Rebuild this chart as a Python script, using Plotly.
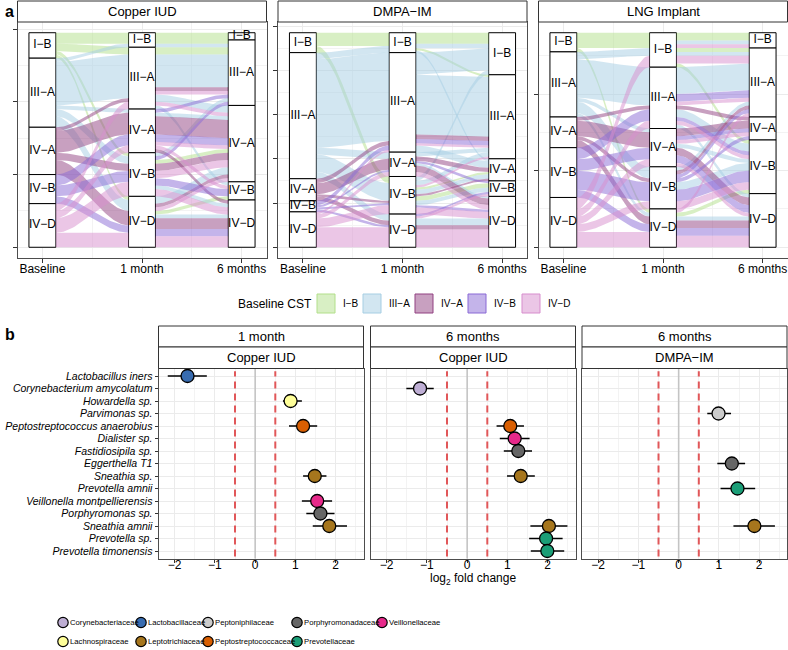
import numpy as np
import plotly.graph_objects as go

W, H = 788, 650
def fx(x): return x / W
def fy(y): return 1 - y / H

# ---------------- panel a data ----------------
CST = ["I-B", "III-A", "IV-A", "IV-B", "IV-D"]
CST_TEXT = ["I−B", "III−A", "IV−A", "IV−B", "IV−D"]
CST_RGB = [(178, 223, 138), (166, 206, 227), (145, 65, 129), (137, 105, 213), (215, 141, 205)]
VISITS = ["Baseline", "1 month", "6 months"]
METHODS = ["Copper IUD", "DMPA−IM", "LNG Implant"]

# (baseline CST, 1-month CST, 6-month CST, participants)
COPPER_IUD_PATHS = [
    ("I-B", "I-B", "I-B", 2), ("I-B", "I-B", "III-A", 1), ("I-B", "III-A", "III-A", 2),
    ("I-B", "IV-B", "IV-A", 1), ("I-B", "IV-D", "IV-B", 1),
    ("III-A", "I-B", "III-A", 1), ("III-A", "III-A", "III-A", 9), ("III-A", "III-A", "IV-A", 2),
    ("III-A", "IV-A", "IV-A", 1), ("III-A", "IV-B", "IV-D", 1), ("III-A", "IV-D", "IV-A", 2),
    ("III-A", "IV-B", "III-A", 1), ("III-A", "III-A", "IV-B", 1), ("III-A", "IV-D", "IV-D", 1),
    ("IV-A", "III-A", "III-A", 1), ("IV-A", "IV-A", "IV-A", 5), ("IV-A", "IV-A", "IV-D", 1),
    ("IV-A", "IV-D", "IV-D", 3), ("IV-A", "IV-D", "IV-A", 1), ("IV-A", "IV-B", "IV-A", 2),
    ("IV-B", "IV-A", "IV-A", 2), ("IV-B", "IV-B", "IV-B", 2), ("IV-B", "IV-B", "III-A", 1),
    ("IV-B", "IV-D", "IV-D", 2), ("IV-B", "IV-A", "III-A", 1),
    ("IV-D", "III-A", "III-A", 1), ("IV-D", "IV-A", "IV-A", 1), ("IV-D", "IV-B", "IV-A", 2),
    ("IV-D", "IV-B", "IV-D", 2), ("IV-D", "IV-D", "IV-D", 3), ("IV-D", "IV-D", "IV-A", 1),
    ("IV-D", "III-A", "IV-A", 1), ("IV-D", "IV-A", "IV-B", 1),
]
DMPA_IM_PATHS = [
    ("I-B", "I-B", "I-B", 5), ("I-B", "IV-B", "IV-B", 2), ("I-B", "IV-B", "IV-A", 1), ("I-B", "I-B", "III-A", 1),
    ("III-A", "I-B", "I-B", 2), ("III-A", "I-B", "IV-A", 1), ("III-A", "III-A", "I-B", 10),
    ("III-A", "III-A", "III-A", 27), ("III-A", "III-A", "IV-A", 3), ("III-A", "IV-A", "III-A", 2),
    ("III-A", "IV-A", "IV-D", 1), ("III-A", "IV-B", "I-B", 2), ("III-A", "IV-B", "IV-B", 2),
    ("III-A", "IV-B", "III-A", 2), ("III-A", "IV-D", "IV-D", 3), ("III-A", "IV-B", "IV-A", 2),
    ("IV-A", "III-A", "III-A", 2), ("IV-A", "IV-A", "IV-A", 2), ("IV-A", "IV-A", "IV-D", 3),
    ("IV-A", "IV-D", "IV-D", 2), ("IV-A", "IV-B", "IV-A", 1),
    ("IV-B", "III-A", "III-A", 2), ("IV-B", "IV-A", "IV-B", 1), ("IV-B", "IV-B", "IV-D", 1), ("IV-B", "IV-D", "IV-B", 1),
    ("IV-D", "III-A", "III-A", 1), ("IV-D", "IV-A", "IV-D", 2), ("IV-D", "IV-B", "IV-D", 3),
    ("IV-D", "IV-D", "IV-D", 8), ("IV-D", "IV-D", "IV-B", 1), ("IV-D", "IV-B", "III-A", 1),
]
LNG_IMPLANT_PATHS = [
    ("I-B", "I-B", "I-B", 2), ("I-B", "I-B", "III-A", 1), ("I-B", "I-B", "IV-B", 1), ("I-B", "IV-D", "IV-B", 1),
    ("III-A", "I-B", "I-B", 1), ("III-A", "I-B", "III-A", 1), ("III-A", "III-A", "III-A", 7),
    ("III-A", "III-A", "IV-B", 2), ("III-A", "IV-A", "IV-B", 1), ("III-A", "IV-B", "III-A", 1),
    ("III-A", "IV-B", "IV-B", 2), ("III-A", "IV-D", "IV-D", 1), ("III-A", "III-A", "IV-D", 1),
    ("IV-A", "IV-A", "IV-A", 2), ("IV-A", "IV-A", "IV-D", 2), ("IV-A", "IV-B", "III-A", 1),
    ("IV-A", "IV-D", "IV-D", 2), ("IV-A", "III-A", "IV-A", 1),
    ("IV-B", "III-A", "III-A", 2), ("IV-B", "IV-A", "IV-A", 1), ("IV-B", "IV-A", "IV-D", 2),
    ("IV-B", "IV-B", "IV-B", 3), ("IV-B", "IV-B", "IV-A", 1), ("IV-B", "IV-D", "IV-D", 2),
    ("IV-B", "IV-B", "III-A", 1), ("IV-B", "III-A", "IV-B", 1),
    ("IV-D", "I-B", "I-B", 1), ("IV-D", "I-B", "III-A", 2), ("IV-D", "III-A", "III-A", 1),
    ("IV-D", "IV-A", "IV-A", 1), ("IV-D", "IV-A", "IV-D", 1), ("IV-D", "IV-B", "IV-B", 2),
    ("IV-D", "IV-D", "IV-D", 3), ("IV-D", "III-A", "IV-B", 1), ("IV-D", "IV-D", "III-A", 1),
]
PANEL_PATHS = [COPPER_IUD_PATHS, DMPA_IM_PATHS, LNG_IMPLANT_PATHS]

# ---------------- panel b data ----------------
SPECIES = ["Lactobacillus iners", "Corynebacterium amycolatum", "Howardella sp.", "Parvimonas sp.",
           "Peptostreptococcus anaerobius", "Dialister sp.", "Fastidiosipila sp.", "Eggerthella T1",
           "Sneathia sp.", "Prevotella amnii", "Veillonella montpellierensis", "Porphyromonas sp.",
           "Sneathia amnii", "Prevotella sp.", "Prevotella timonensis"]
FAMILIES = ["Corynebacteriaceae", "Lachnospiraceae", "Lactobacillaceae", "Leptotrichiaceae",
            "Peptoniphilaceae", "Peptostreptococcaceae", "Porphyromonadaceae", "Prevotellaceae",
            "Veillonellaceae"]
FAMILY_COLORS = ["#BEAED4", "#FFFF99", "#386CB0", "#A6761D", "#CCCCCC", "#D95F02", "#666666",
                 "#1B9E77", "#E7298A"]
SPECIES_FAMILY = {
    "Lactobacillus iners": "Lactobacillaceae", "Corynebacterium amycolatum": "Corynebacteriaceae",
    "Howardella sp.": "Lachnospiraceae", "Parvimonas sp.": "Peptoniphilaceae",
    "Peptostreptococcus anaerobius": "Peptostreptococcaceae", "Dialister sp.": "Veillonellaceae",
    "Fastidiosipila sp.": "Porphyromonadaceae", "Eggerthella T1": "Porphyromonadaceae",
    "Sneathia sp.": "Leptotrichiaceae", "Prevotella amnii": "Prevotellaceae",
    "Veillonella montpellierensis": "Veillonellaceae", "Porphyromonas sp.": "Porphyromonadaceae",
    "Sneathia amnii": "Leptotrichiaceae", "Prevotella sp.": "Prevotellaceae",
    "Prevotella timonensis": "Prevotellaceae",
}
DA_TIMES = ["1 month", "6 months", "6 months"]
DA_METHODS = ["Copper IUD", "Copper IUD", "DMPA−IM"]

CU1_SPECIES = ["Lactobacillus iners", "Howardella sp.", "Peptostreptococcus anaerobius", "Sneathia sp.",
               "Veillonella montpellierensis", "Porphyromonas sp.", "Sneathia amnii"]
CU1_LFC = [-1.68, 0.88, 1.19, 1.48, 1.54, 1.62, 1.84]
CU1_LO = [-2.17, 0.69, 0.84, 1.19, 1.16, 1.27, 1.43]
CU1_HI = [-1.20, 1.16, 1.54, 1.77, 1.91, 1.97, 2.28]

CU6_SPECIES = ["Corynebacterium amycolatum", "Peptostreptococcus anaerobius", "Dialister sp.",
               "Fastidiosipila sp.", "Sneathia sp.", "Sneathia amnii", "Prevotella sp.", "Prevotella timonensis"]
CU6_LFC = [-1.17, 1.07, 1.18, 1.27, 1.33, 2.03, 1.96, 1.99]
CU6_LO = [-1.51, 0.73, 0.81, 0.91, 0.99, 1.57, 1.54, 1.58]
CU6_HI = [-0.83, 1.41, 1.55, 1.61, 1.68, 2.49, 2.37, 2.41]

DM6_SPECIES = ["Parvimonas sp.", "Eggerthella T1", "Prevotella amnii", "Sneathia amnii"]
DM6_LFC = [0.99, 1.32, 1.46, 1.88]
DM6_LO = [0.71, 0.96, 1.04, 1.36]
DM6_HI = [1.30, 1.65, 1.90, 2.39]

DA_SETS = [(CU1_SPECIES, CU1_LFC, CU1_LO, CU1_HI), (CU6_SPECIES, CU6_LFC, CU6_LO, CU6_HI),
           (DM6_SPECIES, DM6_LFC, DM6_LO, DM6_HI)]
LFC_THRESHOLDS = [-0.5, 0.5]

# ---------------- layout geometry ----------------
FONT = "Liberation Sans, Arial, sans-serif"
A_X = [(17.5, 266.5), (278, 527), (538.5, 787.5)]
A_Y = (22, 258)
A_STRIP = (1, 22)
B_X = [(158.5, 363.5), (370.5, 575.5), (582, 787)]
B_Y = (368.5, 558.5)
B_STRIP1 = (326, 347)
B_STRIP2 = (347, 368.5)
BOX_W = 0.27
BORDER = "#4d4d4d"

fig = go.Figure()
shapes, annotations = [], []


def rgba(rgb, a):
    return f"rgba({rgb[0]},{rgb[1]},{rgb[2]},{a})"


def strip(x0, x1, y0, y1, text):
    shapes.append(dict(type="rect", xref="paper", yref="paper", x0=fx(x0), x1=fx(x1), y0=fy(y1), y1=fy(y0),
                       fillcolor="white", line=dict(color="#333333", width=1), layer="above"))
    annotations.append(dict(xref="paper", yref="paper", x=fx((x0 + x1) / 2), y=fy((y0 + y1) / 2), text=text,
                            showarrow=False, font=dict(size=13, color="black", family=FONT),
                            xanchor="center", yanchor="middle"))


T = np.linspace(0, 1, 40)
S = T * T * (3 - 2 * T)
rank = {c: i for i, c in enumerate(CST)}

layout_axes = {}
for pi, paths in enumerate(PANEL_PATHS):
    ax = pi + 1
    xr, yr = f"x{ax}", f"y{ax}"
    N = sum(p[3] for p in paths)
    totals, tops = [], []
    for k in range(3):
        tot = {c: 0 for c in CST}
        for p in paths:
            tot[p[k]] += p[3]
        cur, tp = N, {}
        for c in CST:
            tp[c] = cur
            cur -= tot[c]
        totals.append(tot)
        tops.append(tp)
    # flows
    for k in range(2):
        groups = {}
        for p in paths:
            key = (p[k], p[k + 1], p[0])
            groups[key] = groups.get(key, 0) + p[3]
        left, right = {}, {}
        cursor = dict(tops[k])
        for key in sorted(groups, key=lambda g: (rank[g[0]], rank[g[1]], rank[g[2]])):
            left[key] = cursor[key[0]]
            cursor[key[0]] -= groups[key]
        cursor = dict(tops[k + 1])
        for key in sorted(groups, key=lambda g: (rank[g[1]], rank[g[0]], rank[g[2]])):
            right[key] = cursor[key[1]]
            cursor[key[1]] -= groups[key]
        x0, x1 = k + 1 + BOX_W / 2, k + 2 - BOX_W / 2
        xs = x0 + (x1 - x0) * T
        for key in sorted(groups, key=lambda g: (rank[g[2]], rank[g[0]], rank[g[1]])):
            n = groups[key]
            yt = left[key] + (right[key] - left[key]) * S
            yb = yt - n
            fig.add_trace(go.Scatter(
                x=np.concatenate([xs, xs[::-1]]), y=np.concatenate([yt, yb[::-1]]),
                fill="toself", fillcolor=rgba(CST_RGB[rank[key[2]]], 0.5), mode="lines",
                line=dict(width=0), hoverinfo="skip", showlegend=False, xaxis=xr, yaxis=yr))
    # stratum boxes
    for ci, c in enumerate(CST):
        fig.add_trace(go.Bar(
            x=[1, 2, 3], y=[totals[k][c] for k in range(3)],
            base=[tops[k][c] - totals[k][c] for k in range(3)], width=BOX_W,
            marker=dict(color="white", line=dict(color="black", width=1)),
            hoverinfo="skip", showlegend=False, xaxis=xr, yaxis=yr))
    lx, ly, lt = [], [], []
    for k in range(3):
        for ci, c in enumerate(CST):
            if totals[k][c] > 0:
                lx.append(k + 1)
                ly.append(tops[k][c] - totals[k][c] / 2)
                lt.append(CST_TEXT[ci])
    fig.add_trace(go.Scatter(x=lx, y=ly, text=lt, mode="text", textfont=dict(size=12, color="black", family=FONT),
                             hoverinfo="skip", showlegend=False, xaxis=xr, yaxis=yr))
    xk = "xaxis" if ax == 1 else f"xaxis{ax}"
    yk = "yaxis" if ax == 1 else f"yaxis{ax}"
    layout_axes[xk] = dict(domain=[fx(A_X[pi][0]), fx(A_X[pi][1])], anchor=yr, range=[0.75, 3.25],
                           tickmode="array", tickvals=[1, 2, 3], ticktext=VISITS, ticks="outside", ticklen=4,
                           tickcolor="#333333", showline=True, mirror=True, linecolor=BORDER, linewidth=1,
                           showgrid=True, gridcolor="#ebebeb", zeroline=False, ticklabelstandoff=-4,
                           minor=dict(tickmode="array", tickvals=[1.5, 2.5], showgrid=True, gridcolor="#f3f3f3"),
                           tickfont=dict(size=12, color="black", family=FONT))
    layout_axes[yk] = dict(domain=[fy(A_Y[1]), fy(A_Y[0])], anchor=xr, range=[-0.05 * N, 1.05 * N],
                           tick0=0, dtick=20, showticklabels=False, ticks="outside", ticklen=4,
                           tickcolor="#333333", showline=True, mirror=True, linecolor=BORDER, linewidth=1,
                           showgrid=True, gridcolor="#ebebeb", zeroline=False,
                           minor=dict(dtick=10, showgrid=True, gridcolor="#f3f3f3"))
    strip(A_X[pi][0], A_X[pi][1], A_STRIP[0], A_STRIP[1], METHODS[pi])

# ---------------- panel b ----------------
fam_color = dict(zip(FAMILIES, FAMILY_COLORS))
for bi, (sp, lfc, lo, hi) in enumerate(DA_SETS):
    ax = 4 + bi
    xr, yr = f"x{ax}", f"y{ax}"
    shapes.append(dict(type="line", xref=xr, yref=f"{yr} domain", x0=0, x1=0, y0=0, y1=1,
                       line=dict(color="#c4c4c4", width=1.6), layer="above"))
    for t in LFC_THRESHOLDS:
        shapes.append(dict(type="line", xref=xr, yref=f"{yr} domain", x0=t, x1=t, y0=0.01, y1=0.985,
                           line=dict(color="#E15759", width=2, dash="7px,5px"), layer="above"))
    fig.add_trace(go.Scatter(
        x=lfc, y=sp, mode="markers",
        marker=dict(size=13, color=[fam_color[SPECIES_FAMILY[s]] for s in sp],
                    line=dict(color="black", width=1.3)),
        error_x=dict(type="data", symmetric=False, array=[h - v for h, v in zip(hi, lfc)],
                     arrayminus=[v - l for v, l in zip(lfc, lo)], thickness=1.3, width=0, color="black"),
        hoverinfo="skip", showlegend=False, xaxis=xr, yaxis=yr))
    layout_axes[f"xaxis{ax}"] = dict(domain=[fx(B_X[bi][0]), fx(B_X[bi][1])], anchor=yr, range=[-2.4, 2.69],
                                     tickmode="array", tickvals=[-2, -1, 0, 1, 2], ticks="outside", ticklen=3,
                                     tickcolor="#333333", showline=True, mirror=True, linecolor=BORDER,
                                     linewidth=1, showgrid=True, gridcolor="#ebebeb", zeroline=False,
                                     ticklabelstandoff=-8,
                                     minor=dict(dtick=0.5, tick0=0.5, showgrid=True, gridcolor="#f3f3f3"),
                                     tickfont=dict(size=12, color="black", family=FONT))
    layout_axes[f"yaxis{ax}"] = dict(domain=[fy(B_Y[1]), fy(B_Y[0])], anchor=xr, type="category",
                                     categoryorder="array", categoryarray=SPECIES, range=[14.6, -0.6],
                                     tickmode="array", tickvals=SPECIES, ticktext=SPECIES,
                                     showticklabels=(bi == 0), ticks="outside" if bi == 0 else "", ticklen=3,
                                     tickcolor="#333333", showline=True, mirror=True, linecolor=BORDER,
                                     linewidth=1, showgrid=True, gridcolor="#ebebeb", zeroline=False,
                                     tickfont=dict(size=10.5, color="black", family=FONT, style="italic"))
    strip(B_X[bi][0], B_X[bi][1], B_STRIP1[0], B_STRIP1[1], DA_TIMES[bi])
    strip(B_X[bi][0], B_X[bi][1], B_STRIP2[0], B_STRIP2[1], DA_METHODS[bi])

annotations.append(dict(xref="paper", yref="paper", x=fx(473), y=fy(589), text="log<sub>2</sub> fold change",
                        showarrow=False, font=dict(size=12, color="black", family=FONT)))

# panel labels
annotations.append(dict(xref="paper", yref="paper", x=fx(3), y=fy(11), text="<b>a</b>", showarrow=False,
                        xanchor="left", yanchor="middle", font=dict(size=16, color="black", family=FONT)))
annotations.append(dict(xref="paper", yref="paper", x=fx(3), y=fy(335), text="<b>b</b>", showarrow=False,
                        xanchor="left", yanchor="middle", font=dict(size=16, color="black", family=FONT)))

# legend a (Baseline CST)
annotations.append(dict(xref="paper", yref="paper", x=fx(236), y=fy(304), text="Baseline CST", showarrow=False,
                        xanchor="left", yanchor="middle", font=dict(size=12, color="black", family=FONT)))
LEG_A_X = [317, 363, 415, 468, 522]
for ci in range(len(CST)):
    x0 = LEG_A_X[ci]
    shapes.append(dict(type="rect", xref="paper", yref="paper", x0=fx(x0), x1=fx(x0 + 18), y0=fy(313), y1=fy(294),
                       fillcolor=rgba(CST_RGB[ci], 0.5), line=dict(color=rgba(CST_RGB[ci], 1), width=1)))
    annotations.append(dict(xref="paper", yref="paper", x=fx(x0 + 24), y=fy(304), text=CST_TEXT[ci],
                            showarrow=False, xanchor="left", yanchor="middle",
                            font=dict(size=10, color="black", family=FONT)))

# legend b (families), two rows filled column-wise
LEG_B_COLX = [63, 141, 208, 297, 382]
LEG_B_ROWY = [622.5, 641.5]
for fi, fam in enumerate(FAMILIES):
    cx, cy = LEG_B_COLX[fi // 2], LEG_B_ROWY[fi % 2]
    r = 5.2
    shapes.append(dict(type="circle", xref="paper", yref="paper", x0=fx(cx - r), x1=fx(cx + r), y0=fy(cy + r),
                       y1=fy(cy - r), fillcolor=FAMILY_COLORS[fi], line=dict(color="black", width=1.2)))
    annotations.append(dict(xref="paper", yref="paper", x=fx(cx + 4.5), y=fy(cy), text=fam, showarrow=False,
                            xanchor="left", yanchor="middle",
                            font=dict(size=7.7, color="black", family=FONT)))

fig.update_layout(width=W, height=H, margin=dict(l=0, r=0, t=0, b=0), paper_bgcolor="white",
                  plot_bgcolor="white", barmode="overlay", showlegend=False, shapes=shapes,
                  annotations=annotations, font=dict(family=FONT, color="black"), **layout_axes)
fig.write_html("out.html", config={"displayModeBar": False},
               post_script="document.body.style.margin='0px';")
